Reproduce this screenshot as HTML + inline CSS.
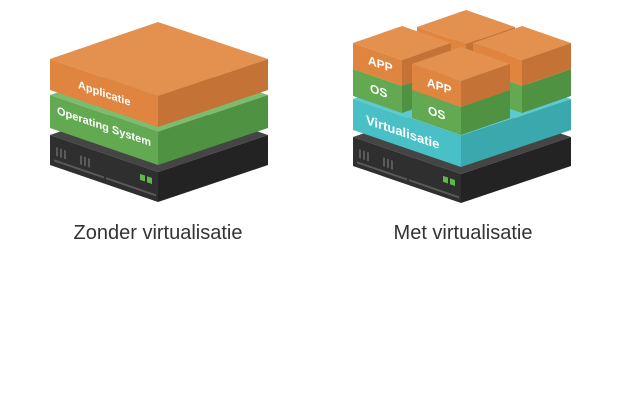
<!DOCTYPE html>
<html><head><meta charset="utf-8"><style>
html,body{margin:0;padding:0;background:#fff;}
svg{display:block;}
text{font-family:"Liberation Sans",sans-serif;}
.lbl{fill:#fff;font-weight:bold;font-size:11px;}
.cap{fill:#333;font-size:20px;}
</style></head><body>
<svg width="619" height="400" viewBox="0 0 619 400" xmlns="http://www.w3.org/2000/svg">
<!-- LEFT STACK -->
<g>
<polygon points="50,135 158,98 268,135 158,172" fill="#454545"/>
<polygon points="50,135 158,172 158,202 50,165" fill="#2f2f2f"/>
<polygon points="158,172 268,135 268,165 158,202" fill="#232323"/>
<g transform="matrix(1,0.3426,0,1,50,135)" fill="#5a5a5a">
<rect x="6" y="10" width="2" height="9"/><rect x="10" y="10" width="2" height="9"/><rect x="14" y="10" width="2" height="9"/>
<rect x="30" y="10" width="2" height="9"/><rect x="34" y="10" width="2" height="9"/><rect x="38" y="10" width="2" height="9"/>
<rect x="4" y="23" width="50" height="2"/><rect x="56" y="23" width="50" height="2"/>
</g>
<g transform="matrix(1,0.3426,0,1,50,135)" fill="#5fb84a">
<rect x="90" y="8" width="5" height="6"/><rect x="97" y="8" width="5" height="6"/>
</g>
</g>
<polygon points="50,95 158,58 268,95 158,132" fill="#7dbb6e"/>
<polygon points="50,95 158,132 158,165 50,128" fill="#62a952"/>
<polygon points="158,132 268,95 268,128 158,165" fill="#4f9241"/>
<text class="lbl" transform="matrix(1,0.3426,0,1,57,114)">Operating System</text>
<polygon points="50,59 158,22 268,59 158,96" fill="#e4904f"/>
<polygon points="50,59 158,96 158,127 50,90" fill="#df8540"/>
<polygon points="158,96 268,59 268,90 158,127" fill="#c47236"/>
<text class="lbl" transform="matrix(1,0.3426,0,1,78,88)">Applicatie</text>

<!-- RIGHT STACK -->
<g>
<polygon points="353,137 461,100 571,137 461,174" fill="#454545"/>
<polygon points="353,137 461,174 461,203 353,166" fill="#2f2f2f"/>
<polygon points="461,174 571,137 571,166 461,203" fill="#232323"/>
<g transform="matrix(1,0.3426,0,1,353,137)" fill="#5a5a5a">
<rect x="6" y="10" width="2" height="9"/><rect x="10" y="10" width="2" height="9"/><rect x="14" y="10" width="2" height="9"/>
<rect x="30" y="10" width="2" height="9"/><rect x="34" y="10" width="2" height="9"/><rect x="38" y="10" width="2" height="9"/>
<rect x="4" y="23" width="50" height="2"/><rect x="56" y="23" width="50" height="2"/>
</g>
<g transform="matrix(1,0.3426,0,1,353,137)" fill="#5fb84a">
<rect x="90" y="8" width="5" height="6"/><rect x="97" y="8" width="5" height="6"/>
</g>
</g>
<polygon points="353,99 461,62 571,99 461,136" fill="#5ccbd0"/>
<polygon points="353,99 461,136 461,167 353,130" fill="#48c0c6"/>
<polygon points="461,136 571,99 571,130 461,167" fill="#3aa8ad"/>
<text class="lbl" style="font-size:13px" transform="matrix(1,0.3426,0,1,366,124)">Virtualisatie</text>

<g>
<polygon points="417,52 466,35 515,52 466,69" fill="#4f9241"/>
<polygon points="417,27 466,10 515,27 466,44" fill="#e4904f"/>
<polygon points="417,27 466,44 466,69 417,52" fill="#df8540"/>
<polygon points="466,44 515,27 515,52 466,69" fill="#c47236"/>
</g>
<g>
<polygon points="353,69 402,86 402,113 353,96" fill="#62a952"/>
<polygon points="402,86 451,69 451,96 402,113" fill="#4f9241"/>
<polygon points="353,43 402,26 451,43 402,60" fill="#e4904f"/>
<polygon points="353,43 402,60 402,86 353,69" fill="#df8540"/>
<polygon points="402,60 451,43 451,69 402,86" fill="#c47236"/>
<text class="lbl" style="font-size:12px" transform="matrix(1,0.3426,0,1,368,64)">APP</text>
<text class="lbl" style="font-size:12px" transform="matrix(1,0.3426,0,1,370,92)">OS</text>
</g>
<g>
<polygon points="473,69 522,86 522,113 473,96" fill="#62a952"/>
<polygon points="522,86 571,69 571,96 522,113" fill="#4f9241"/>
<polygon points="473,43 522,26 571,43 522,60" fill="#e4904f"/>
<polygon points="473,43 522,60 522,86 473,69" fill="#df8540"/>
<polygon points="522,60 571,43 571,69 522,86" fill="#c47236"/>
</g>
<g>
<polygon points="412,90 461,107 461,135 412,118" fill="#62a952"/>
<polygon points="461,107 510,90 510,118 461,135" fill="#4f9241"/>
<polygon points="412,64 461,47 510,64 461,81" fill="#e4904f"/>
<polygon points="412,64 461,81 461,107 412,90" fill="#df8540"/>
<polygon points="461,81 510,64 510,90 461,107" fill="#c47236"/>
<text class="lbl" style="font-size:12px" transform="matrix(1,0.3426,0,1,427,86)">APP</text>
<text class="lbl" style="font-size:12px" transform="matrix(1,0.3426,0,1,428,114)">OS</text>
</g>

<text class="cap" x="158" y="239" text-anchor="middle">Zonder virtualisatie</text>
<text class="cap" x="463" y="239" text-anchor="middle">Met virtualisatie</text>
</svg>
</body></html>
